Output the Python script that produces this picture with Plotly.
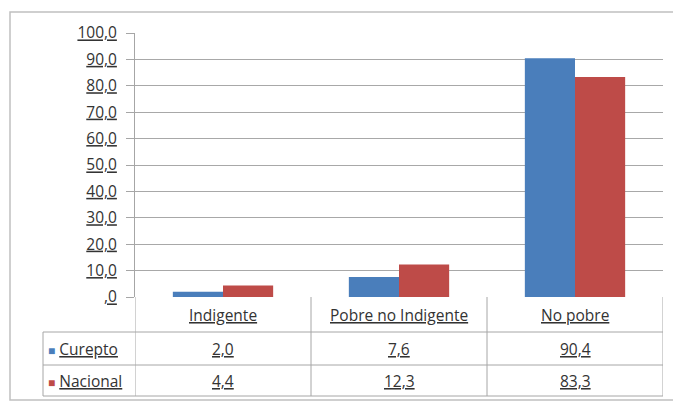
import plotly.graph_objects as go

categories = ["Indigente", "Pobre no Indigente", "No pobre"]
curepto = [2.0, 7.6, 90.4]
nacional = [4.4, 12.3, 83.3]
series_names = ["Curepto", "Nacional"]
series_colors = ["#4A7EBB", "#BE4B48"]
ytick_vals = [0, 10, 20, 30, 40, 50, 60, 70, 80, 90, 100]
ytick_text = [",0", "10,0", "20,0", "30,0", "40,0", "50,0", "60,0", "70,0", "80,0", "90,0", "100,0"]

# page body margin offset (default 8px)
OFF = 8
W, H = 681 - OFF, 403 - OFF
# plot area in screen pixels
L, R, T, B = 135, 663, 33, 297

def px_x(p):
    return (p - L) / (R - L)

def px_y(p):
    return (B - p) / (B - T)

FONT = "Open Sans"
TXT = "#333333"
LINE = "#a6a6a6"
FS = 15.5

fig = go.Figure()
for name, vals, col in zip(series_names, [curepto, nacional], series_colors):
    fig.add_trace(go.Bar(x=list(range(len(categories))), y=vals, name=name,
                         marker=dict(color=col, line=dict(width=0)),
                         showlegend=False))

fig.update_layout(
    width=W, height=H,
    margin=dict(l=L - OFF, r=W - (R - OFF), t=T - OFF, b=H - (B - OFF)),
    paper_bgcolor="white", plot_bgcolor="white",
    barmode="group", bargap=0.43, bargroupgap=0,
    font=dict(family=FONT, size=FS, color=TXT),
    xaxis=dict(range=[-0.5, 2.5], showticklabels=False, showgrid=False,
               zeroline=False, showline=False, ticks=""),
    yaxis=dict(range=[0, 100], tickvals=ytick_vals,
               ticktext=["<u>%s</u>" % t for t in ytick_text],
               showgrid=True, gridcolor="#a8a8a8", gridwidth=1,
               zeroline=False, showline=True, linecolor=LINE, linewidth=1,
               ticks="outside", ticklen=8, tickcolor=LINE,
               ticklabelstandoff=6,
               tickfont=dict(family=FONT, size=FS, color=TXT)),
)

shapes = []
# outer chart border
shapes.append(dict(type="rect", xref="paper", yref="paper",
                   x0=px_x(10), x1=px_x(676), y0=px_y(400), y1=px_y(12),
                   line=dict(color="#c0c0c0", width=1.5), layer="below"))
# table vertical lines at category boundaries
for xb in [-0.5, 0.5, 1.5, 2.5]:
    shapes.append(dict(type="line", xref="x", yref="paper", x0=xb, x1=xb,
                       y0=0, y1=px_y(396), line=dict(color=LINE, width=1)))
# table left edge
shapes.append(dict(type="line", xref="paper", yref="paper", x0=px_x(43), x1=px_x(43),
                   y0=px_y(332), y1=px_y(396), line=dict(color=LINE, width=1)))
# table horizontal lines
for yp in [332, 365, 396]:
    shapes.append(dict(type="line", xref="paper", yref="paper", x0=px_x(43), x1=1,
                       y0=px_y(yp), y1=px_y(yp), line=dict(color=LINE, width=1)))
fig.update_layout(shapes=shapes)

ann = []
for i, c in enumerate(categories):
    ann.append(dict(x=i, y=px_y(315), xref="x", yref="paper", text="<u>%s</u>" % c,
                    xanchor="center", yanchor="middle",
                    showarrow=False, font=dict(family=FONT, size=FS, color=TXT)))
row_y = [348.5, 380.5]
for r, (name, vals, col) in enumerate(zip(series_names, [curepto, nacional], series_colors)):
    ann.append(dict(x=px_x(46), y=px_y(row_y[r]), xref="paper", yref="paper",
                    xanchor="left", yanchor="middle",
                    text='<span style="color:%s;font-size:12px">■</span> <u>%s</u>' % (col, name),
                    showarrow=False, font=dict(family=FONT, size=FS, color=TXT)))
    for i, v in enumerate(vals):
        ann.append(dict(x=i, y=px_y(row_y[r]), xref="x", yref="paper",
                        xanchor="center", yanchor="middle",
                        text="<u>%s</u>" % ("%.1f" % v).replace(".", ","),
                        showarrow=False, font=dict(family=FONT, size=FS, color=TXT)))
fig.update_layout(annotations=ann)

fig.write_html("out.html")
